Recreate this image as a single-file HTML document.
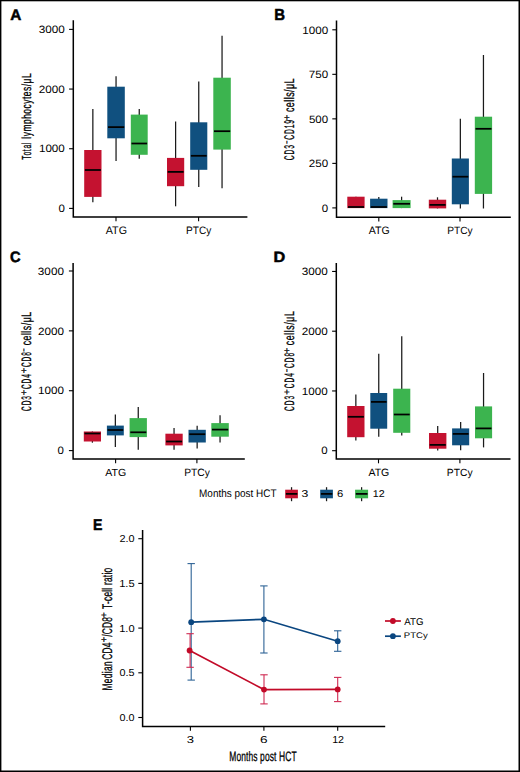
<!DOCTYPE html>
<html><head><meta charset="utf-8"><style>
html,body{margin:0;padding:0;background:#fff;}
svg{display:block;}
text{font-family:"Liberation Sans",sans-serif;text-rendering:geometricPrecision;}
</style></head><body>
<svg width="520" height="772" viewBox="0 0 520 772">
<rect x="0" y="0" width="520" height="772" fill="#fff"/>
<text x="10.27" y="20.25" font-size="15.41" textLength="11.09" lengthAdjust="spacingAndGlyphs" fill="#000" font-weight="bold" stroke="#000" stroke-width="0.5">A</text><path d="M73.30 20.30 V217.00 H247.40" fill="none" stroke="#000" stroke-width="1.5"/><line x1="69.10" y1="208.40" x2="73.30" y2="208.40" stroke="#000" stroke-width="1.1"/><line x1="69.10" y1="148.73" x2="73.30" y2="148.73" stroke="#000" stroke-width="1.1"/><line x1="69.10" y1="89.06" x2="73.30" y2="89.06" stroke="#000" stroke-width="1.1"/><line x1="69.10" y1="29.39" x2="73.30" y2="29.39" stroke="#000" stroke-width="1.1"/><line x1="116.00" y1="217.00" x2="116.00" y2="221.20" stroke="#000" stroke-width="1.1"/><line x1="198.60" y1="217.00" x2="198.60" y2="221.20" stroke="#000" stroke-width="1.1"/><text x="58.45" y="212.10" font-size="10.60" textLength="6.40" lengthAdjust="spacingAndGlyphs" fill="#000">0</text><text x="38.91" y="152.43" font-size="10.60" textLength="25.94" lengthAdjust="spacingAndGlyphs" fill="#000">1000</text><text x="38.81" y="92.76" font-size="10.60" textLength="26.05" lengthAdjust="spacingAndGlyphs" fill="#000">2000</text><text x="38.75" y="33.09" font-size="10.60" textLength="26.11" lengthAdjust="spacingAndGlyphs" fill="#000">3000</text><line x1="92.85" y1="109.00" x2="92.85" y2="202.30" stroke="#1a1a1a" stroke-width="1.25"/><rect x="84.20" y="150.00" width="17.30" height="46.90" fill="#c41230"/><line x1="84.90" y1="170.00" x2="100.90" y2="170.00" stroke="#000" stroke-width="1.75"/><line x1="116.05" y1="76.20" x2="116.05" y2="161.00" stroke="#1a1a1a" stroke-width="1.25"/><rect x="107.30" y="86.70" width="17.50" height="51.60" fill="#10507f"/><line x1="108.00" y1="127.10" x2="124.20" y2="127.10" stroke="#000" stroke-width="1.75"/><line x1="139.25" y1="109.00" x2="139.25" y2="158.70" stroke="#1a1a1a" stroke-width="1.25"/><rect x="130.80" y="114.60" width="16.90" height="40.20" fill="#3cb44f"/><line x1="131.50" y1="143.50" x2="147.10" y2="143.50" stroke="#000" stroke-width="1.75"/><line x1="175.60" y1="121.50" x2="175.60" y2="206.30" stroke="#1a1a1a" stroke-width="1.25"/><rect x="167.00" y="157.90" width="17.20" height="28.30" fill="#c41230"/><line x1="167.70" y1="171.90" x2="183.60" y2="171.90" stroke="#000" stroke-width="1.75"/><line x1="198.75" y1="81.50" x2="198.75" y2="187.00" stroke="#1a1a1a" stroke-width="1.25"/><rect x="190.20" y="122.30" width="17.10" height="47.50" fill="#10507f"/><line x1="190.90" y1="155.80" x2="206.70" y2="155.80" stroke="#000" stroke-width="1.75"/><line x1="222.05" y1="35.80" x2="222.05" y2="188.30" stroke="#1a1a1a" stroke-width="1.25"/><rect x="213.30" y="77.70" width="17.50" height="71.90" fill="#3cb44f"/><line x1="214.00" y1="131.20" x2="230.20" y2="131.20" stroke="#000" stroke-width="1.75"/><text transform="translate(30.95 159.65) rotate(-90) scale(0.520 1)" x="0" y="0" font-size="13.15" letter-spacing="1.252" fill="#000" stroke="#000" stroke-width="0.30">Total</text><text transform="translate(30.95 138.67) rotate(-90) scale(0.640 1)" x="0" y="0" font-size="13.15" letter-spacing="0.798" fill="#000" stroke="#000" stroke-width="0.30">lymphocytes/μL</text>
<text x="105.78" y="233.80" font-size="10.88" textLength="21.19" lengthAdjust="spacingAndGlyphs" fill="#000">ATG</text>
<text x="186.07" y="233.55" font-size="10.82" textLength="25.35" lengthAdjust="spacingAndGlyphs" fill="#000">PTCy</text>
<text x="274.35" y="20.35" font-size="15.84" textLength="10.78" lengthAdjust="spacingAndGlyphs" fill="#000" font-weight="bold" stroke="#000" stroke-width="0.5">B</text><path d="M336.50 20.60 V217.20 H510.80" fill="none" stroke="#000" stroke-width="1.5"/><line x1="332.30" y1="207.90" x2="336.50" y2="207.90" stroke="#000" stroke-width="1.1"/><line x1="332.30" y1="163.38" x2="336.50" y2="163.38" stroke="#000" stroke-width="1.1"/><line x1="332.30" y1="118.85" x2="336.50" y2="118.85" stroke="#000" stroke-width="1.1"/><line x1="332.30" y1="74.33" x2="336.50" y2="74.33" stroke="#000" stroke-width="1.1"/><line x1="332.30" y1="29.80" x2="336.50" y2="29.80" stroke="#000" stroke-width="1.1"/><line x1="378.80" y1="217.20" x2="378.80" y2="221.40" stroke="#000" stroke-width="1.1"/><line x1="460.00" y1="217.20" x2="460.00" y2="221.40" stroke="#000" stroke-width="1.1"/><text x="321.75" y="211.60" font-size="10.60" textLength="6.40" lengthAdjust="spacingAndGlyphs" fill="#000">0</text><text x="308.82" y="167.07" font-size="10.60" textLength="19.34" lengthAdjust="spacingAndGlyphs" fill="#000">250</text><text x="308.94" y="122.55" font-size="10.60" textLength="19.21" lengthAdjust="spacingAndGlyphs" fill="#000">500</text><text x="308.81" y="78.03" font-size="10.60" textLength="19.35" lengthAdjust="spacingAndGlyphs" fill="#000">750</text><text x="302.21" y="33.50" font-size="10.60" textLength="25.94" lengthAdjust="spacingAndGlyphs" fill="#000">1000</text><line x1="355.95" y1="196.70" x2="355.95" y2="208.10" stroke="#1a1a1a" stroke-width="1.25"/><rect x="347.30" y="196.70" width="17.30" height="11.40" fill="#c41230"/><line x1="348.00" y1="207.00" x2="364.00" y2="207.00" stroke="#000" stroke-width="1.75"/><line x1="378.80" y1="197.00" x2="378.80" y2="208.10" stroke="#1a1a1a" stroke-width="1.25"/><rect x="370.10" y="198.70" width="17.40" height="9.40" fill="#10507f"/><line x1="370.80" y1="207.00" x2="386.90" y2="207.00" stroke="#000" stroke-width="1.75"/><line x1="401.60" y1="196.70" x2="401.60" y2="208.10" stroke="#1a1a1a" stroke-width="1.25"/><rect x="392.60" y="200.10" width="18.00" height="8.00" fill="#3cb44f"/><line x1="393.30" y1="203.80" x2="410.00" y2="203.80" stroke="#000" stroke-width="1.75"/><line x1="437.50" y1="197.30" x2="437.50" y2="208.40" stroke="#1a1a1a" stroke-width="1.25"/><rect x="428.80" y="199.70" width="17.40" height="8.70" fill="#c41230"/><line x1="429.50" y1="204.90" x2="445.60" y2="204.90" stroke="#000" stroke-width="1.75"/><line x1="460.35" y1="118.80" x2="460.35" y2="208.50" stroke="#1a1a1a" stroke-width="1.25"/><rect x="451.80" y="158.50" width="17.10" height="45.80" fill="#10507f"/><line x1="452.50" y1="176.70" x2="468.30" y2="176.70" stroke="#000" stroke-width="1.75"/><line x1="483.45" y1="55.00" x2="483.45" y2="208.50" stroke="#1a1a1a" stroke-width="1.25"/><rect x="474.80" y="116.70" width="17.30" height="77.20" fill="#3cb44f"/><line x1="475.50" y1="128.80" x2="491.50" y2="128.80" stroke="#000" stroke-width="1.75"/><text transform="translate(294.20 160.14) rotate(-90) scale(0.480 1)" x="0" y="0" font-size="13.95" letter-spacing="1.877" fill="#000" stroke="#000" stroke-width="0.30">CD3<tspan dx="8.812">CD19</tspan></text><text transform="translate(289.70 142.37) rotate(-90) scale(0.600 1)" x="0" y="0" font-size="9.50" text-anchor="middle" fill="#000" stroke="#000" stroke-width="0.30">−</text><text transform="translate(294.20 112.08) rotate(-90) scale(0.640 1)" x="0" y="0" font-size="13.95" letter-spacing="0.718" fill="#000" stroke="#000" stroke-width="0.30">cells/μL</text><text transform="translate(289.70 117.50) rotate(-90) scale(1.000 1)" x="0" y="0" font-size="9.50" text-anchor="middle" fill="#000" stroke="#000" stroke-width="0.30">+</text>
<text x="368.78" y="234.00" font-size="10.74" textLength="20.98" lengthAdjust="spacingAndGlyphs" fill="#000">ATG</text>
<text x="447.16" y="233.52" font-size="10.49" textLength="25.46" lengthAdjust="spacingAndGlyphs" fill="#000">PTCy</text>
<text x="10.05" y="261.95" font-size="15.18" textLength="10.60" lengthAdjust="spacingAndGlyphs" fill="#000" font-weight="bold" stroke="#000" stroke-width="0.5">C</text><path d="M73.10 263.10 V459.10 H244.80" fill="none" stroke="#000" stroke-width="1.5"/><line x1="68.90" y1="450.60" x2="73.10" y2="450.60" stroke="#000" stroke-width="1.1"/><line x1="68.90" y1="390.73" x2="73.10" y2="390.73" stroke="#000" stroke-width="1.1"/><line x1="68.90" y1="330.86" x2="73.10" y2="330.86" stroke="#000" stroke-width="1.1"/><line x1="68.90" y1="270.99" x2="73.10" y2="270.99" stroke="#000" stroke-width="1.1"/><line x1="115.60" y1="459.10" x2="115.60" y2="463.30" stroke="#000" stroke-width="1.1"/><line x1="196.90" y1="459.10" x2="196.90" y2="463.30" stroke="#000" stroke-width="1.1"/><text x="57.55" y="454.30" font-size="10.60" textLength="6.40" lengthAdjust="spacingAndGlyphs" fill="#000">0</text><text x="38.01" y="394.43" font-size="10.60" textLength="25.94" lengthAdjust="spacingAndGlyphs" fill="#000">1000</text><text x="37.91" y="334.56" font-size="10.60" textLength="26.05" lengthAdjust="spacingAndGlyphs" fill="#000">2000</text><text x="37.85" y="274.69" font-size="10.60" textLength="26.11" lengthAdjust="spacingAndGlyphs" fill="#000">3000</text><line x1="92.40" y1="431.50" x2="92.40" y2="442.70" stroke="#1a1a1a" stroke-width="1.25"/><rect x="83.80" y="431.50" width="17.20" height="10.00" fill="#c41230"/><line x1="84.50" y1="433.50" x2="100.40" y2="433.50" stroke="#000" stroke-width="1.75"/><line x1="115.35" y1="414.60" x2="115.35" y2="447.10" stroke="#1a1a1a" stroke-width="1.25"/><rect x="106.90" y="425.60" width="16.90" height="9.80" fill="#10507f"/><line x1="107.60" y1="430.00" x2="123.20" y2="430.00" stroke="#000" stroke-width="1.75"/><line x1="138.25" y1="406.90" x2="138.25" y2="449.80" stroke="#1a1a1a" stroke-width="1.25"/><rect x="129.60" y="418.10" width="17.30" height="19.00" fill="#3cb44f"/><line x1="130.30" y1="432.30" x2="146.30" y2="432.30" stroke="#000" stroke-width="1.75"/><line x1="174.05" y1="427.90" x2="174.05" y2="449.80" stroke="#1a1a1a" stroke-width="1.25"/><rect x="165.40" y="433.70" width="17.30" height="11.70" fill="#c41230"/><line x1="166.10" y1="441.50" x2="182.10" y2="441.50" stroke="#000" stroke-width="1.75"/><line x1="197.15" y1="425.80" x2="197.15" y2="448.50" stroke="#1a1a1a" stroke-width="1.25"/><rect x="188.50" y="429.80" width="17.30" height="12.70" fill="#10507f"/><line x1="189.20" y1="434.20" x2="205.20" y2="434.20" stroke="#000" stroke-width="1.75"/><line x1="220.05" y1="415.20" x2="220.05" y2="442.50" stroke="#1a1a1a" stroke-width="1.25"/><rect x="211.30" y="423.10" width="17.50" height="13.60" fill="#3cb44f"/><line x1="212.00" y1="429.60" x2="228.20" y2="429.60" stroke="#000" stroke-width="1.75"/><text transform="translate(31.00 410.93) rotate(-90) scale(0.480 1)" x="0" y="0" font-size="13.66" letter-spacing="1.722" fill="#000" stroke="#000" stroke-width="0.30">CD3<tspan dx="13.280">CD4</tspan><tspan dx="13.280">CD8</tspan></text><text transform="translate(26.50 392.56) rotate(-90) scale(1.000 1)" x="0" y="0" font-size="9.50" text-anchor="middle" fill="#000" stroke="#000" stroke-width="0.30">+</text><text transform="translate(26.50 370.59) rotate(-90) scale(1.000 1)" x="0" y="0" font-size="9.50" text-anchor="middle" fill="#000" stroke="#000" stroke-width="0.30">+</text><text transform="translate(31.00 345.37) rotate(-90) scale(0.640 1)" x="0" y="0" font-size="13.66" letter-spacing="0.812" fill="#000" stroke="#000" stroke-width="0.30">cells/μL</text><text transform="translate(26.50 350.20) rotate(-90) scale(0.600 1)" x="0" y="0" font-size="9.50" text-anchor="middle" fill="#000" stroke="#000" stroke-width="0.30">−</text>
<text x="105.28" y="476.00" font-size="10.31" textLength="20.98" lengthAdjust="spacingAndGlyphs" fill="#000">ATG</text>
<text x="184.16" y="476.00" font-size="10.60" textLength="25.66" lengthAdjust="spacingAndGlyphs" fill="#000">PTCy</text>
<text x="273.46" y="261.55" font-size="14.83" textLength="11.78" lengthAdjust="spacingAndGlyphs" fill="#000" font-weight="bold" stroke="#000" stroke-width="0.5">D</text><path d="M336.30 263.10 V459.10 H510.50" fill="none" stroke="#000" stroke-width="1.5"/><line x1="332.10" y1="450.70" x2="336.30" y2="450.70" stroke="#000" stroke-width="1.1"/><line x1="332.10" y1="390.95" x2="336.30" y2="390.95" stroke="#000" stroke-width="1.1"/><line x1="332.10" y1="331.20" x2="336.30" y2="331.20" stroke="#000" stroke-width="1.1"/><line x1="332.10" y1="271.45" x2="336.30" y2="271.45" stroke="#000" stroke-width="1.1"/><line x1="378.50" y1="459.10" x2="378.50" y2="463.30" stroke="#000" stroke-width="1.1"/><line x1="459.90" y1="459.10" x2="459.90" y2="463.30" stroke="#000" stroke-width="1.1"/><text x="321.35" y="454.40" font-size="10.60" textLength="6.40" lengthAdjust="spacingAndGlyphs" fill="#000">0</text><text x="301.81" y="394.65" font-size="10.60" textLength="25.94" lengthAdjust="spacingAndGlyphs" fill="#000">1000</text><text x="301.71" y="334.90" font-size="10.60" textLength="26.05" lengthAdjust="spacingAndGlyphs" fill="#000">2000</text><text x="301.65" y="275.15" font-size="10.60" textLength="26.11" lengthAdjust="spacingAndGlyphs" fill="#000">3000</text><line x1="355.85" y1="394.50" x2="355.85" y2="440.40" stroke="#1a1a1a" stroke-width="1.25"/><rect x="347.20" y="406.00" width="17.30" height="31.20" fill="#c41230"/><line x1="347.90" y1="416.80" x2="363.90" y2="416.80" stroke="#000" stroke-width="1.75"/><line x1="378.75" y1="353.70" x2="378.75" y2="436.70" stroke="#1a1a1a" stroke-width="1.25"/><rect x="370.30" y="393.00" width="16.90" height="35.70" fill="#10507f"/><line x1="371.00" y1="401.90" x2="386.60" y2="401.90" stroke="#000" stroke-width="1.75"/><line x1="401.75" y1="336.20" x2="401.75" y2="435.50" stroke="#1a1a1a" stroke-width="1.25"/><rect x="393.20" y="388.70" width="17.10" height="44.10" fill="#3cb44f"/><line x1="393.90" y1="414.50" x2="409.70" y2="414.50" stroke="#000" stroke-width="1.75"/><line x1="437.70" y1="426.00" x2="437.70" y2="450.40" stroke="#1a1a1a" stroke-width="1.25"/><rect x="429.00" y="433.00" width="17.40" height="15.70" fill="#c41230"/><line x1="429.70" y1="444.90" x2="445.80" y2="444.90" stroke="#000" stroke-width="1.75"/><line x1="460.65" y1="422.00" x2="460.65" y2="450.20" stroke="#1a1a1a" stroke-width="1.25"/><rect x="452.10" y="428.40" width="17.10" height="16.90" fill="#10507f"/><line x1="452.80" y1="433.90" x2="468.60" y2="433.90" stroke="#000" stroke-width="1.75"/><line x1="483.55" y1="373.00" x2="483.55" y2="447.40" stroke="#1a1a1a" stroke-width="1.25"/><rect x="475.00" y="406.40" width="17.10" height="31.90" fill="#3cb44f"/><line x1="475.70" y1="428.40" x2="491.50" y2="428.40" stroke="#000" stroke-width="1.75"/><text transform="translate(294.00 410.93) rotate(-90) scale(0.480 1)" x="0" y="0" font-size="13.66" letter-spacing="2.059" fill="#000" stroke="#000" stroke-width="0.30">CD3<tspan dx="13.617">CD4</tspan><tspan dx="8.994">CD8</tspan></text><text transform="translate(289.50 392.07) rotate(-90) scale(1.000 1)" x="0" y="0" font-size="9.50" text-anchor="middle" fill="#000" stroke="#000" stroke-width="0.30">+</text><text transform="translate(289.50 370.56) rotate(-90) scale(0.600 1)" x="0" y="0" font-size="9.50" text-anchor="middle" fill="#000" stroke="#000" stroke-width="0.30">−</text><text transform="translate(294.00 345.17) rotate(-90) scale(0.640 1)" x="0" y="0" font-size="13.66" letter-spacing="0.924" fill="#000" stroke="#000" stroke-width="0.30">cells/μL</text><text transform="translate(289.50 350.50) rotate(-90) scale(1.000 1)" x="0" y="0" font-size="9.50" text-anchor="middle" fill="#000" stroke="#000" stroke-width="0.30">+</text>
<text x="368.38" y="475.70" font-size="10.60" textLength="20.98" lengthAdjust="spacingAndGlyphs" fill="#000">ATG</text>
<text x="446.85" y="475.85" font-size="10.38" textLength="25.77" lengthAdjust="spacingAndGlyphs" fill="#000">PTCy</text>
<text x="199.08" y="497.30" font-size="11.04" textLength="77.44" lengthAdjust="spacingAndGlyphs" fill="#000">Months post HCT</text>
<line x1="291.55" y1="487.20" x2="291.55" y2="501.20" stroke="#1a1a1a" stroke-width="1.25"/><rect x="285.20" y="489.70" width="12.70" height="8.60" fill="#c41230"/><line x1="285.90" y1="493.90" x2="297.30" y2="493.90" stroke="#000" stroke-width="1.75"/>
<text x="301.63" y="497.40" font-size="9.88" textLength="6.80" lengthAdjust="spacingAndGlyphs" fill="#000">3</text>
<line x1="326.55" y1="487.20" x2="326.55" y2="501.20" stroke="#1a1a1a" stroke-width="1.25"/><rect x="320.20" y="489.70" width="12.70" height="8.60" fill="#10507f"/><line x1="320.90" y1="493.90" x2="332.30" y2="493.90" stroke="#000" stroke-width="1.75"/>
<text x="337.13" y="497.40" font-size="9.88" textLength="6.27" lengthAdjust="spacingAndGlyphs" fill="#000">6</text>
<line x1="361.60" y1="487.20" x2="361.60" y2="501.20" stroke="#1a1a1a" stroke-width="1.25"/><rect x="355.10" y="489.70" width="13.00" height="8.60" fill="#3cb44f"/><line x1="355.80" y1="493.90" x2="367.50" y2="493.90" stroke="#000" stroke-width="1.75"/>
<text x="372.79" y="497.40" font-size="9.88" textLength="11.85" lengthAdjust="spacingAndGlyphs" fill="#000">12</text>
<text x="92.91" y="529.75" font-size="15.55" textLength="9.39" lengthAdjust="spacingAndGlyphs" fill="#000" font-weight="bold" stroke="#000" stroke-width="0.5">E</text>
<path d="M142.60 530.00 V726.40 H385.20" fill="none" stroke="#000" stroke-width="1.5"/><line x1="138.30" y1="717.50" x2="142.60" y2="717.50" stroke="#000" stroke-width="1.1"/><line x1="138.30" y1="672.80" x2="142.60" y2="672.80" stroke="#000" stroke-width="1.1"/><line x1="138.30" y1="628.10" x2="142.60" y2="628.10" stroke="#000" stroke-width="1.1"/><line x1="138.30" y1="583.40" x2="142.60" y2="583.40" stroke="#000" stroke-width="1.1"/><line x1="138.30" y1="538.70" x2="142.60" y2="538.70" stroke="#000" stroke-width="1.1"/><line x1="190.40" y1="726.40" x2="190.40" y2="730.70" stroke="#000" stroke-width="1.1"/><line x1="263.90" y1="726.40" x2="263.90" y2="730.70" stroke="#000" stroke-width="1.1"/><line x1="337.70" y1="726.40" x2="337.70" y2="730.70" stroke="#000" stroke-width="1.1"/>
<text x="119.58" y="721.00" font-size="10.03" textLength="15.05" lengthAdjust="spacingAndGlyphs" fill="#000">0.0</text>
<text x="119.58" y="676.30" font-size="10.03" textLength="15.08" lengthAdjust="spacingAndGlyphs" fill="#000">0.5</text>
<text x="119.15" y="631.60" font-size="10.03" textLength="15.48" lengthAdjust="spacingAndGlyphs" fill="#000">1.0</text>
<text x="119.15" y="586.90" font-size="10.17" textLength="15.52" lengthAdjust="spacingAndGlyphs" fill="#000">1.5</text>
<text x="119.45" y="542.20" font-size="10.03" textLength="15.18" lengthAdjust="spacingAndGlyphs" fill="#000">2.0</text>
<text x="186.80" y="742.60" font-size="10.03" textLength="7.27" lengthAdjust="spacingAndGlyphs" fill="#000">3</text>
<text x="260.11" y="742.60" font-size="10.03" textLength="7.59" lengthAdjust="spacingAndGlyphs" fill="#000">6</text>
<text x="332.19" y="742.60" font-size="10.03" textLength="11.85" lengthAdjust="spacingAndGlyphs" fill="#000">12</text>
<text transform="translate(111.70 690.49) rotate(-90) scale(0.600 1)" x="0" y="0" font-size="13.95" letter-spacing="0.591" fill="#000" stroke="#000" stroke-width="0.30">Median</text><text transform="translate(111.70 659.63) rotate(-90) scale(0.600 1)" x="0" y="0" font-size="13.95" letter-spacing="0.290" fill="#000" stroke="#000" stroke-width="0.30">CD4<tspan dx="9.537">/CD8</tspan></text><text transform="translate(107.20 639.58) rotate(-90) scale(1.000 1)" x="0" y="0" font-size="9.50" text-anchor="middle" fill="#000" stroke="#000" stroke-width="0.30">+</text><text transform="translate(111.70 608.89) rotate(-90) scale(0.600 1)" x="0" y="0" font-size="13.95" letter-spacing="0.373" fill="#000" stroke="#000" stroke-width="0.30">T-cell ratio</text><text transform="translate(107.20 614.90) rotate(-90) scale(1.000 1)" x="0" y="0" font-size="9.50" text-anchor="middle" fill="#000" stroke="#000" stroke-width="0.30">+</text>
<text transform="translate(229.31 760.50) scale(0.620 1)" x="0" y="0" font-size="13.66" letter-spacing="0.159" fill="#000" stroke="#000" stroke-width="0.30"><tspan dy="0.00">Months post HCT</tspan></text>
<line x1="191.20" y1="563.60" x2="191.20" y2="680.10" stroke="#2e6396" stroke-width="1.1"/><line x1="187.50" y1="563.60" x2="194.90" y2="563.60" stroke="#2e6396" stroke-width="1.1"/><line x1="187.50" y1="680.10" x2="194.90" y2="680.10" stroke="#2e6396" stroke-width="1.1"/>
<line x1="263.90" y1="585.90" x2="263.90" y2="653.00" stroke="#2e6396" stroke-width="1.1"/><line x1="260.20" y1="585.90" x2="267.60" y2="585.90" stroke="#2e6396" stroke-width="1.1"/><line x1="260.20" y1="653.00" x2="267.60" y2="653.00" stroke="#2e6396" stroke-width="1.1"/>
<line x1="337.70" y1="630.80" x2="337.70" y2="651.30" stroke="#2e6396" stroke-width="1.1"/><line x1="334.00" y1="630.80" x2="341.40" y2="630.80" stroke="#2e6396" stroke-width="1.1"/><line x1="334.00" y1="651.30" x2="341.40" y2="651.30" stroke="#2e6396" stroke-width="1.1"/>
<line x1="190.10" y1="633.70" x2="190.10" y2="667.30" stroke="#cf2a52" stroke-width="1.1"/><line x1="186.40" y1="633.70" x2="193.80" y2="633.70" stroke="#cf2a52" stroke-width="1.1"/><line x1="186.40" y1="667.30" x2="193.80" y2="667.30" stroke="#cf2a52" stroke-width="1.1"/>
<line x1="264.00" y1="674.80" x2="264.00" y2="703.90" stroke="#cf2a52" stroke-width="1.1"/><line x1="260.30" y1="674.80" x2="267.70" y2="674.80" stroke="#cf2a52" stroke-width="1.1"/><line x1="260.30" y1="703.90" x2="267.70" y2="703.90" stroke="#cf2a52" stroke-width="1.1"/>
<line x1="337.70" y1="677.40" x2="337.70" y2="701.60" stroke="#cf2a52" stroke-width="1.1"/><line x1="334.00" y1="677.40" x2="341.40" y2="677.40" stroke="#cf2a52" stroke-width="1.1"/><line x1="334.00" y1="701.60" x2="341.40" y2="701.60" stroke="#cf2a52" stroke-width="1.1"/>
<polyline points="191.2,622.2 263.9,619.3 337.7,641.2" fill="none" stroke="#0a4680" stroke-width="1.7"/>
<polyline points="189.7,650.5 264.0,689.6 337.7,689.4" fill="none" stroke="#c20a28" stroke-width="1.7"/>
<circle cx="191.20" cy="622.20" r="2.9" fill="#0a4680"/>
<circle cx="263.90" cy="619.30" r="2.9" fill="#0a4680"/>
<circle cx="337.70" cy="641.20" r="2.9" fill="#0a4680"/>
<circle cx="189.60" cy="650.50" r="2.9" fill="#c20a28"/>
<circle cx="264.00" cy="689.60" r="2.9" fill="#c20a28"/>
<circle cx="337.70" cy="689.40" r="2.9" fill="#c20a28"/>
<line x1="385.0" y1="621.00" x2="400.9" y2="621.00" stroke="#c20a28" stroke-width="1.7"/>
<circle cx="392.9" cy="621.00" r="2.9" fill="#c20a28"/>
<text x="404.28" y="624.60" font-size="9.88" textLength="19.22" lengthAdjust="spacingAndGlyphs" fill="#000">ATG</text>
<line x1="385.0" y1="636.20" x2="400.9" y2="636.20" stroke="#0a4680" stroke-width="1.7"/>
<circle cx="392.9" cy="636.20" r="2.9" fill="#0a4680"/>
<text x="403.82" y="638.30" font-size="8.17" textLength="23.90" lengthAdjust="spacingAndGlyphs" fill="#000">PTCy</text>
<rect x="0" y="0" width="520" height="1.3" fill="#000"/><rect x="0" y="0" width="1.4" height="772" fill="#000"/><rect x="518.5" y="0" width="1.5" height="772" fill="#000"/><rect x="0" y="770.5" width="520" height="1.5" fill="#000"/>
</svg></body></html>
